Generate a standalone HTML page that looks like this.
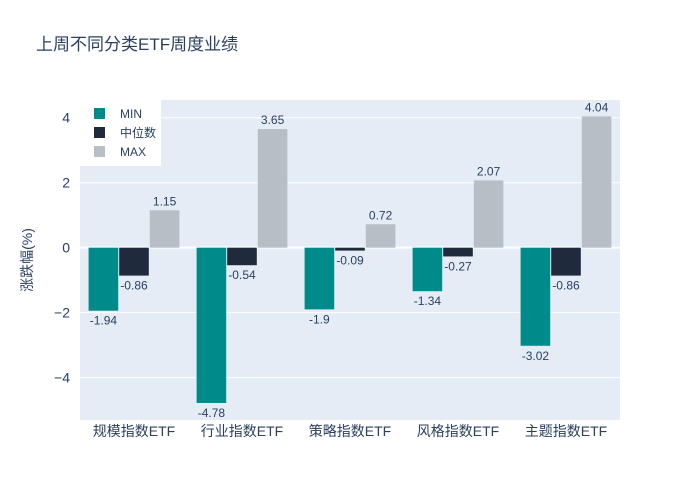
<!DOCTYPE html>
<html><head><meta charset="utf-8"><style>
html,body{margin:0;padding:0;background:#fff;overflow:hidden;}
svg{display:block;font-family:"Liberation Sans","Noto Sans CJK SC",sans-serif;}
</style></head><body>
<svg id="chart" width="700" height="500">
<rect width="700" height="500" fill="#fff"/>
<text x="36" y="50" font-size="17" fill="#2a3f5f">上周不同分类ETF周度业绩</text>
<rect x="80" y="100" width="540" height="320" fill="#e5ecf6"/>
<g id="grid"></g><g id="bars"></g><g id="labels"></g>
<text transform="translate(32,260) rotate(-90)" text-anchor="middle" font-size="14" fill="#2a3f5f">涨跌幅(%)</text>
<g id="legend"></g>
</svg>
<script>
const categories=["规模指数ETF","行业指数ETF","策略指数ETF","风格指数ETF","主题指数ETF"];
const seriesNames=["MIN","中位数","MAX"];
const minVals=[-1.94,-4.78,-1.9,-1.34,-3.02];
const medVals=[-0.86,-0.54,-0.09,-0.27,-0.86];
const maxVals=[1.15,3.65,0.72,2.07,4.04];
const yTicks=[-4,-2,0,2,4];
const colors=["#008b8b","#1f2a3c","#b8bec6"];
const ns="http://www.w3.org/2000/svg";
const X0=80,W=540,Y0=100,H=320,yMin=-5.32,yMax=4.53;
const y=v=>Y0+(yMax-v)/(yMax-yMin)*H+0.5;
const band=W/categories.length, bw=band*0.85/3;
function mk(t,a,p){const e=document.createElementNS(ns,t);for(const k in a)e.setAttribute(k,a[k]);p.appendChild(e);return e;}
const grid=document.getElementById('grid');
yTicks.forEach(t=>{
  const l=mk('line',{x1:X0,x2:X0+W,y1:y(t),y2:y(t),stroke:'#fff','stroke-width':t===0?2:1},grid);
  
  
  const tx=mk('text',{x:X0-10,y:y(t)+5,'text-anchor':'end','font-size':14,fill:'#2a3f5f'},grid);
  tx.textContent=t<0?'\u2212'+(-t):t;
  
  
});
const bars=document.getElementById('bars'),labels=document.getElementById('labels');
const all=[minVals,medVals,maxVals];
categories.forEach((c,i)=>{
  const gx=X0+band*i+band*0.075;
  all.forEach((arr,s)=>{
    const v=arr[i],bx=gx+bw*s;
    const r=mk('rect',{x:bx+0.5,width:bw-1,y:Math.min(y(v),y(0)),height:Math.abs(y(v)-y(0)),fill:colors[s]},bars);
    
    
    const t=mk('text',{x:bx+bw/2,y:v>=0?y(v)-5:y(v)+14,'text-anchor':'middle','font-size':12,fill:'#2a3f5f'},labels);
    t.textContent=v;
    
    
  });
  const ct=mk('text',{x:X0+band*(i+0.5),y:436,'text-anchor':'middle','font-size':14,fill:'#2a3f5f'},labels);
  ct.textContent=c;
  
  
});
const lg=document.getElementById('legend');
const lb=mk('rect',{x:80,y:100,width:81,height:66,fill:'#fff'},lg);


seriesNames.forEach((n,s)=>{
  const yy=114+s*19;
  const m=mk('rect',{x:94,y:yy-6,width:11,height:11,fill:colors[s]},lg);
  
  
  const t=mk('text',{x:120,y:yy+4,'font-size':12,fill:'#2a3f5f'},lg);
  t.textContent=n;
  
  
});
</script>
</body></html>
